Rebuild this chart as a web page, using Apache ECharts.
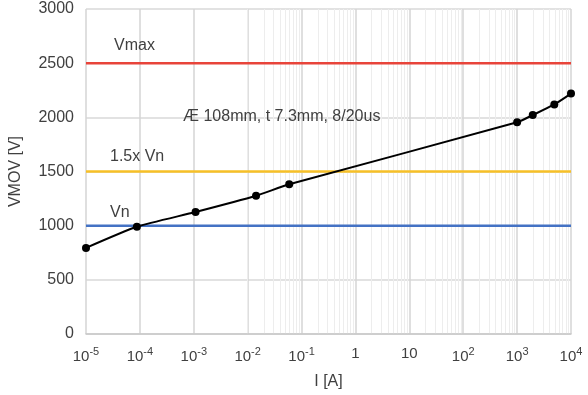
<!DOCTYPE html>
<html>
<head>
<meta charset="utf-8">
<script src="https://cdn.jsdelivr.net/npm/echarts@6/dist/echarts.min.js"></script>
<style>
  html, body { margin: 0; padding: 0; background: #fff; }
  #chart { width: 588px; height: 395px; }
</style>
</head>
<body>
<div id="chart"></div>
<script>
// measured current [A] and MOV voltage [V]
const currents = [1e-5, 8.8e-5, 1.08e-3, 1.43e-2, 5.9e-2, 1000, 1950, 4900, 1e4];
const voltages = [795, 990, 1126, 1276, 1382, 1954, 2021, 2119, 2219];

// reference voltage levels
const levelNames = ['Vmax', '1.5x Vn', 'Vn'];
const levelValues = [2500, 1500, 1000];
const levelColors = ['#e8443a', '#f7c027', '#4472c4'];

const xMin = 1e-5;
const xMax = 1e4;

// minor log grid positions 2..9 x 10^n
const minorLines = [];
for (let e = -5; e < 4; e++) {
    for (let k = 2; k <= 9; k++) {
        minorLines.push({ xAxis: k * Math.pow(10, e) });
    }
}

const font = 'Liberation Sans, Arial, sans-serif';
const textColor = '#404040';

const chart = echarts.init(document.getElementById('chart'));

const levelSeries = levelValues.map((v, i) => ({
    name: levelNames[i],
    type: 'line',
    data: [[xMin, v], [xMax, v]],
    symbol: 'none',
    silent: true,
    lineStyle: { color: levelColors[i], width: 2.5 },
    z: 3
}));

chart.setOption({
    animation: false,
    grid: { left: 83, right: 17, top: 9, bottom: 57 },
    xAxis: {
        type: 'log',
        logBase: 10,
        min: xMin,
        max: xMax,
        name: 'I [A]',
        nameLocation: 'middle',
        nameGap: 40,
        nameTextStyle: { fontFamily: font, fontSize: 16, color: textColor },
        axisLine: { lineStyle: { color: '#c8c8c8', width: 1.5 } },
        axisTick: { show: false },
        splitLine: { show: true, lineStyle: { color: '#d4d4d4', width: 1.5 } },
        axisLabel: {
            margin: 12,
            fontFamily: font,
            fontSize: 15,
            color: textColor,
            formatter: function (val) {
                const e = Math.round(Math.log10(val));
                if (e === 0) return '1';
                if (e === 1) return '10';
                return '10{sup|' + e + '}';
            },
            rich: {
                sup: { fontFamily: font, fontSize: 11, color: textColor, verticalAlign: 'bottom', padding: [0, 0, 10, 0] }
            }
        }
    },
    yAxis: {
        type: 'value',
        min: 0,
        max: 3000,
        interval: 500,
        name: 'VMOV [V]',
        nameLocation: 'middle',
        nameGap: 62,
        nameTextStyle: { fontFamily: font, fontSize: 16, color: textColor },
        axisLine: { show: false },
        axisTick: { show: false },
        splitLine: { lineStyle: { color: '#d9d9d9', width: 1.5 } },
        axisLabel: {
            margin: 12,
            fontFamily: font,
            fontSize: 16,
            color: textColor,
            formatter: function (val) { return String(val); }
        }
    },
    graphic: [
        { type: 'text', z: 20, left: 114, top: 38, style: { text: 'Vmax', fontFamily: font, fontSize: 16, fill: textColor } },
        { type: 'text', z: 20, left: 110, top: 149, style: { text: '1.5x Vn', fontFamily: font, fontSize: 16, fill: textColor } },
        { type: 'text', z: 20, left: 110, top: 205, style: { text: 'Vn', fontFamily: font, fontSize: 16, fill: textColor } },
        { type: 'text', z: 20, left: 183, top: 109, style: { text: 'Æ 108mm, t 7.3mm, 8/20us', fontFamily: font, fontSize: 16, fill: textColor } }
    ],
    series: [
        {
            name: 'minor',
            type: 'line',
            data: [],
            silent: true,
            z: 0,
            markLine: {
                z: 0,
                silent: true,
                symbol: 'none',
                label: { show: false },
                lineStyle: { color: '#ededed', width: 1, type: 'solid' },
                data: minorLines
            }
        },
        ...levelSeries,
        {
            name: 'VMOV',
            type: 'line',
            data: currents.map((c, i) => [c, voltages[i]]),
            smooth: 0.2,
            symbol: 'circle',
            symbolSize: 8,
            itemStyle: { color: '#000' },
            lineStyle: { color: '#000', width: 2 },
            z: 5
        }
    ]
});

window.addEventListener('resize', () => {
    chart.resize();
});
</script>
</body>
</html>
